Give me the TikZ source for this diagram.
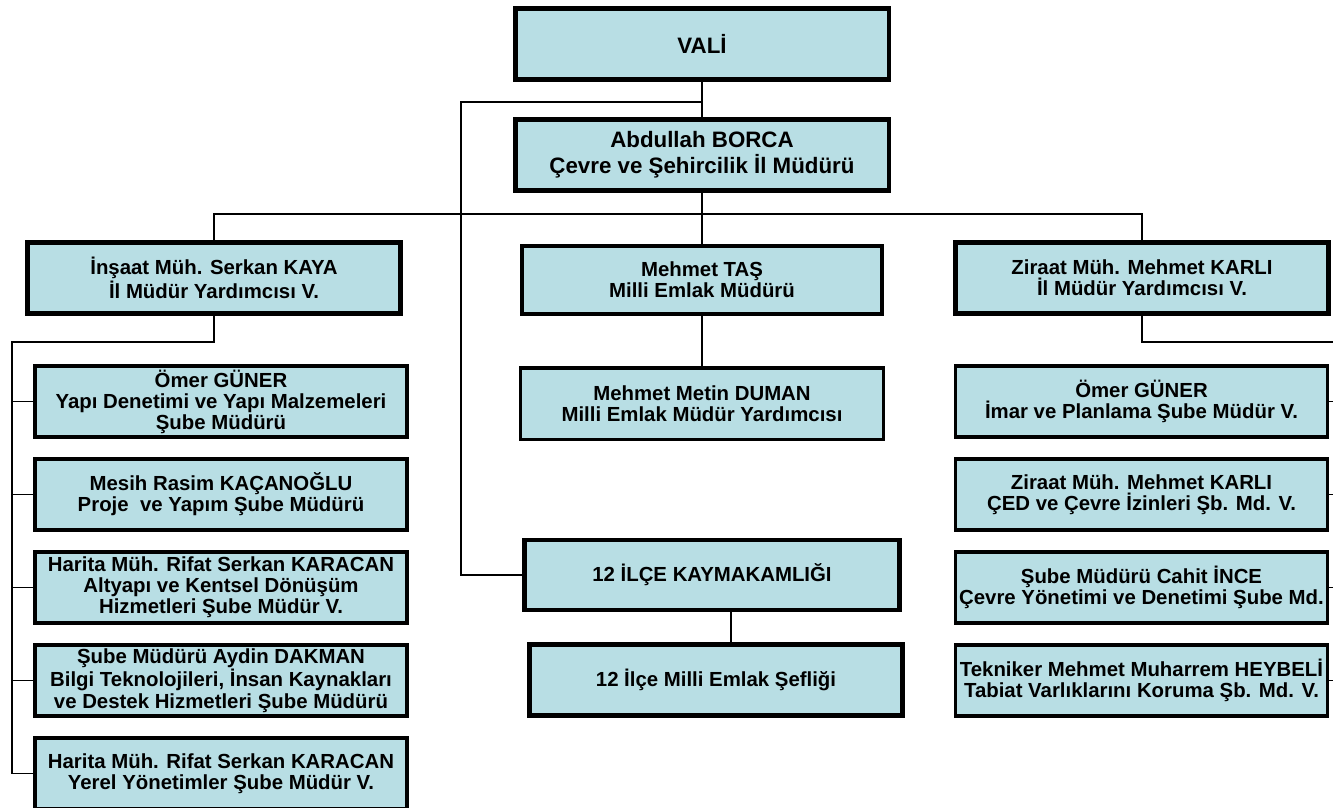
\documentclass[tikz,border=0pt]{standalone}
\usepackage{fontspec}
\setmainfont{Liberation Sans}
\usetikzlibrary{positioning}
\definecolor{boxblue}{RGB}{184,222,228}

\begin{document}
\begin{tikzpicture}[x=0.02cm, y=-0.02cm,
  unit/.style={draw, rectangle, fill=boxblue, align=center, inner sep=1pt,
    font=\bfseries\fontsize{11.6}{12}\selectfont},
  head/.style={unit, line width=2.8pt, minimum width=7.48cm, minimum height=1.42cm,
    font=\bfseries\fontsize{12.7}{14.5}\selectfont},
  chief/.style={unit, line width=2.8pt, minimum width=7.46cm, minimum height=1.42cm},
  branch/.style={unit, line width=2pt, minimum width=7.45cm, minimum height=1.43cm},
  link/.style={line width=1pt}]
\useasboundingbox (0,0) rectangle (1333,808);
\clip (0,0) rectangle (1333,808);

% Governor and provincial director
\node[head] (vali) at (702,44) {VALİ};
\node[head, below=0.7cm of vali] (borca) {Abdullah BORCA\\Çevre ve Şehircilik İl Müdürü};

% Deputies and national estate
\node[chief] (insaat) at (214,278) {İnşaat Müh. Serkan KAYA\\İl Müdür Yardımcısı V.};
\node[chief, minimum width=7.2cm, minimum height=1.36cm] (tas) at (702,280) {Mehmet TAŞ\\Milli Emlak Müdürü};
\node[chief] (ziraat) at (1142,278) {Ziraat Müh. Mehmet KARLI\\İl Müdür Yardımcısı V.};
\node[branch, minimum width=7.26cm, below=1cm of tas] (duman) {Mehmet Metin DUMAN\\Milli Emlak Müdür Yardımcısı};

% Districts
\node[chief, minimum width=7.5cm, minimum height=1.4cm] (kaymakam) at (712,575) {12 İLÇE KAYMAKAMLIĞI};
\node[chief, below=0.6cm of kaymakam, xshift=0.08cm] (seflik) {12 İlçe Milli Emlak Şefliği};

% Left branch offices
\node[branch] (l1) at (221,401.5) {Ömer GÜNER\\Yapı Denetimi ve Yapı Malzemeleri\\Şube Müdürü};
\node[branch, below=0.36cm of l1] (l2) {Mesih Rasim KAÇANOĞLU\\Proje \ ve Yapım Şube Müdürü};
\node[branch, below=0.36cm of l2] (l3) {Harita Müh. Rifat Serkan KARACAN\\Altyapı ve Kentsel Dönüşüm\\Hizmetleri Şube Müdür V.};
\node[branch, below=0.36cm of l3] (l4) {Şube Müdürü Aydin DAKMAN\\Bilgi Teknolojileri, İnsan Kaynakları\\ve Destek Hizmetleri Şube Müdürü};
\node[branch, below=0.36cm of l4] (l5) {Harita Müh. Rifat Serkan KARACAN\\Yerel Yönetimler Şube Müdür V.};

% Right branch offices
\node[branch] (r1) at (1141.5,401.5) {Ömer GÜNER\\İmar ve Planlama Şube Müdür V.};
\node[branch, below=0.36cm of r1] (r2) {Ziraat Müh. Mehmet KARLI\\ÇED ve Çevre İzinleri Şb. Md. V.};
\node[branch, below=0.36cm of r2] (r3) {Şube Müdürü Cahit İNCE\\Çevre Yönetimi ve Denetimi Şube Md.};
\node[branch, below=0.36cm of r3] (r4) {Tekniker Mehmet Muharrem HEYBELİ\\Tabiat Varlıklarını Koruma Şb. Md. V.};

% Junctions
\coordinate (split) at (702,102);
\coordinate (kbus) at (461,102);
\coordinate (bus) at (702,214);
\coordinate (lbus) at (12,342);
\coordinate (rbus) at (1345,342);

% Connectors
\draw[link] (vali) -- (borca);
\draw[link] (split) -- (kbus) |- (kaymakam.west);
\draw[link] (borca) -- (bus) -- (tas);
\draw[link] (insaat.north) |- (bus) -| (ziraat.north);
\draw[link] (tas) -- (duman);
\draw[link] ([xshift=0.38cm]kaymakam.south) -- ([xshift=0.38cm]kaymakam.south |- seflik.north);
\draw[link] (insaat.south) |- (lbus) |- (l5.west);
\foreach \n in {l1,l2,l3,l4}
  \draw[link] (lbus |- \n.west) -- (\n.west);
\draw[link] (ziraat.south) |- (rbus) |- (r4.east);
\foreach \n in {r1,r2,r3}
  \draw[link] (rbus |- \n.east) -- (\n.east);
\end{tikzpicture}
\end{document}
